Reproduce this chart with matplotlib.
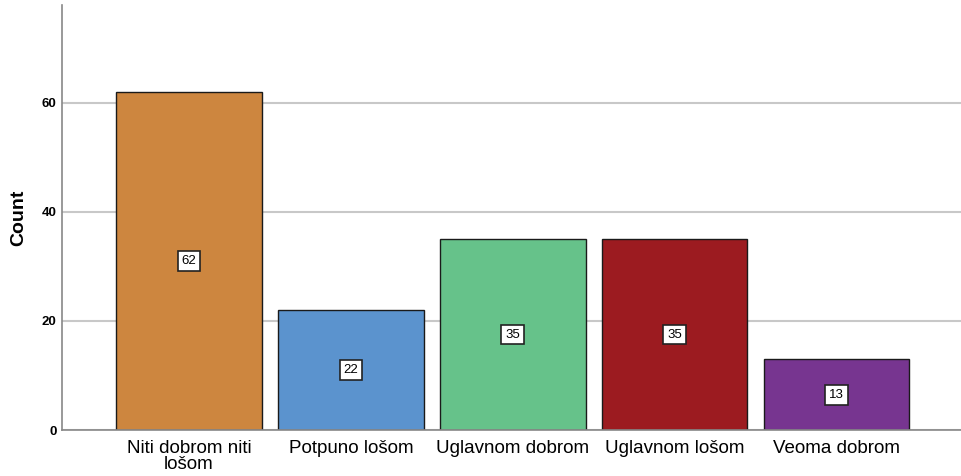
import matplotlib.pyplot as plt

categories = ["Niti dobrom niti\nlošom", "Potpuno lošom", "Uglavnom dobrom",
              "Uglavnom lošom", "Veoma dobrom"]
counts = [62, 22, 35, 35, 13]
colors = ["#CD863F", "#5B93CE", "#66C28A", "#9C1B20", "#773590"]
yticks = [0, 20, 40, 60]

plt.rcParams["font.family"] = ["Liberation Sans", "DejaVu Sans"]

fig = plt.figure(figsize=(9.61, 4.76), dpi=100)
ax = fig.add_axes([0.0645, 0.0966, 0.9355, 0.893])

x = list(range(len(categories)))
ax.set_axisbelow(True)
ax.grid(axis="y", color="#C8C8C8", linewidth=1.5)
bars = ax.bar(x, counts, width=0.9, color=colors, edgecolor="#1a1a1a", linewidth=1.0)

for xi, c in zip(x, counts):
    ax.text(xi, c / 2, str(c), ha="center", va="center", fontsize=9.5,
            bbox=dict(boxstyle="square,pad=0.3", facecolor="white",
                      edgecolor="#222222", linewidth=1.2))

ax.set_xlim(-0.785, 4.77)
ax.set_ylim(0, 77.9)
ax.set_yticks(yticks)
ax.set_yticklabels([str(t) for t in yticks], fontsize=9.5, fontweight="bold")
ax.set_xticks(x)
ax.set_xticklabels(categories, fontsize=13.5, linespacing=0.97)
ax.tick_params(length=0)
ax.tick_params(axis="x", pad=7)
ax.tick_params(axis="y", pad=4)

for s in ["top", "right"]:
    ax.spines[s].set_visible(False)
for s in ["left", "bottom"]:
    ax.spines[s].set_color("#888888")
    ax.spines[s].set_linewidth(1.2)

ax.set_ylabel("Count", fontsize=14, fontweight="bold")
ax.yaxis.label.set_va("center")
ax.yaxis.set_label_coords(-0.048, 0.5)

fig.savefig("out.png", dpi=100)
